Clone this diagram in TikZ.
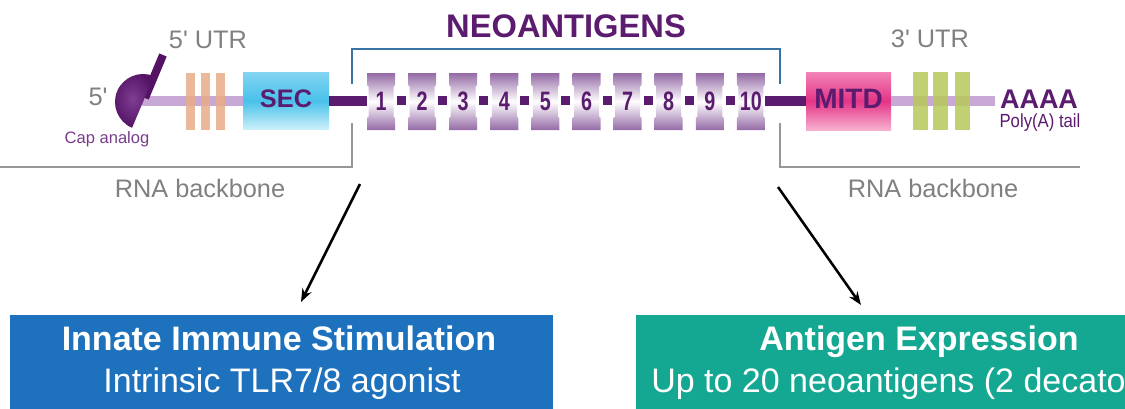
\documentclass[tikz,border=0pt]{standalone}
\usepackage{fontspec}
\setmainfont{Liberation Sans}
\usetikzlibrary{arrows.meta}

\definecolor{dpurple}{RGB}{91,27,110}
\definecolor{lpurple}{RGB}{200,168,212}
\definecolor{capdark}{RGB}{84,18,100}
\definecolor{caplight}{RGB}{128,62,148}
\definecolor{captxt}{RGB}{120,60,140}
\definecolor{gtext}{RGB}{128,128,128}
\definecolor{gline}{RGB}{150,150,150}
\definecolor{bline}{RGB}{58,116,166}
\definecolor{secTop}{RGB}{130,212,241}
\definecolor{secMid}{RGB}{72,193,234}
\definecolor{secBot}{RGB}{205,240,250}
\definecolor{mitdTop}{RGB}{242,132,182}
\definecolor{mitdMid}{RGB}{228,52,135}
\definecolor{mitdBot}{RGB}{247,176,207}
\definecolor{neoEdge}{RGB}{148,106,166}
\definecolor{utrOrange}{RGB}{233,172,136}
\definecolor{utrGreen}{RGB}{182,200,90}
\definecolor{innateBlue}{RGB}{30,114,189}
\definecolor{antigenTeal}{RGB}{20,168,146}

\newcommand{\pxfont}[1]{\fontsize{#1}{#1}\selectfont}

\begin{document}
\begin{tikzpicture}[x=0.75pt,y=-0.75pt,
  lbl/.style={inner sep=0pt, anchor=base},
  greylbl/.style={lbl, text=gtext, font=\pxfont{19pt}},
  purplbl/.style={lbl, text=dpurple},
  bracket/.style={line width=1.5pt},
  utrbar/.style={fill opacity=0.85},
  lightline/.style={lpurple, line width=7.5pt},
  darkline/.style={dpurple, line width=8pt},
  gene/.style={rectangle, inner sep=0pt, draw=none},
  callout/.style={black, line width=1.9pt, -{Stealth[length=10pt,width=7.5pt]}},
  panel/.style={rectangle, inner sep=0pt, draw=none, anchor=north west},
  paneltitle/.style={lbl, text=white, font=\bfseries\pxfont{25.5pt}},
  paneltext/.style={lbl, text=white, font=\pxfont{25.5pt}},
]
\useasboundingbox (0,0) rectangle (1125,408);
\clip (0,0) rectangle (1125,408);

% ---- title and bracket over the neoantigen cassette
\node[purplbl, font=\bfseries\pxfont{24.5pt}] (neo) at (566,37) {NEOANTIGENS};
\draw[bline, bracket] (352,84) -- (352,49) -- (780,49) -- (780,84);

% ---- RNA backbone brackets
\draw[gline, bracket] (0,167) -- (352,167) -- (352,123);
\draw[gline, bracket] (780,123) -- (780,167) -- (1080,167);
\node[greylbl] (rnaL) at (200,197) {RNA backbone};
\node[greylbl] (rnaR) at (933,197) {RNA backbone};

% ---- UTR labels
\node[greylbl] (utr5) at (208,48) {5\textquotesingle{} UTR};
\node[greylbl] (utr3) at (930,47) {3\textquotesingle{} UTR};

% ---- gene blocks
\node[gene, minimum width=64.5pt, minimum height=42.75pt,
      top color=secTop, bottom color=secBot, middle color=secMid] (sec) at (286,101) {};
\node[gene, minimum width=63.75pt, minimum height=43.5pt,
      top color=mitdTop, bottom color=mitdBot, middle color=mitdMid] (mitd) at (848.5,101) {};

\coordinate (capc) at (142,101);
\coordinate (tailw) at (995,101);
\coordinate (b1w) at (367,101);
\coordinate (b10e) at (765,101);

% ---- backbone strands
\draw[lightline] (capc) -- (sec.west);
\draw[lightline] (mitd.east) -- (tailw);
\draw[darkline] (sec.east) -- (b1w);
\draw[darkline] (b10e) -- (mitd.west);

% ---- UTR elements
\foreach \xa in {186,201,216}
  \fill[utrOrange, utrbar] (\xa,73) rectangle (\xa+9,130);
\foreach \xa in {913,933,955}
  \fill[utrGreen, utrbar] (\xa,72) rectangle (\xa+15,130);

% ---- 5' cap: half disc with its stalk along the flat edge
\draw[capdark, line width=6pt] (163,55) -- (145,98);
\shade[inner color=caplight, outer color=capdark]
  (143,102) ++(113:28) arc[start angle=113, end angle=293, radius=28] -- cycle;
\node[greylbl] (five) at (98,105) {5\textquotesingle};
\node[lbl, text=captxt, font=\pxfont{12.4pt}] (capl) at (107,143) {Cap analog};

% ---- block labels
\node[purplbl, font=\bfseries\pxfont{19pt}] (secl) at (286,107) {SEC};
\node[purplbl, font=\bfseries\pxfont{21pt}] (mitdl) at (848.5,108) {MITD};
\node[purplbl, font=\bfseries\pxfont{20.25pt}] (polyA) at (1039,108) {AAAA};
\node[purplbl, font=\pxfont{14.25pt}] (polyl) at (1040,127) {\scalebox{0.88}[1]{Poly(A) tail}};

% ---- ten neoantigen boxes with linkers
\foreach \i in {1,...,10}{
  \pgfmathsetmacro{\xa}{367+41.1*(\i-1)}
  \pgfmathsetmacro{\xb}{\xa+28}
  \shade[top color=neoEdge, bottom color=neoEdge, middle color=white]
    (\xa,73) -- (\xb,73) -- (\xb,85) -- (\xb-1.5,86.5) -- (\xb-1.5,116.5) -- (\xb,118)
    -- (\xb,130) -- (\xa,130) -- (\xa,118) -- (\xa+1.5,116.5) -- (\xa+1.5,86.5) -- (\xa,85) -- cycle;
  \node[purplbl, font=\bfseries\pxfont{20pt}] (n\i) at (\xa+14,110) {\scalebox{0.74}[1]{\i}};
}
\foreach \i in {1,...,9}{
  \pgfmathsetmacro{\xc}{367+41.1*(\i-1)+34.55}
  \fill[dpurple] (\xc-4.5,96) rectangle (\xc+4.5,105);
}

% ---- callouts
\coordinate (aLs) at (360,184);
\coordinate (aLe) at (301,302);
\coordinate (aRs) at (778,187);
\coordinate (aRe) at (861,305);
\draw[callout] (aLs) -- (aLe);
\draw[callout] (aRs) -- (aRe);

% ---- result panels
\node[panel, fill=innateBlue, minimum width=407.25pt, minimum height=78.75pt] (innate) at (10,315) {};
\node[panel, fill=antigenTeal, minimum width=374.25pt, minimum height=78.75pt] (antigen) at (636,315) {};
\node[paneltitle] (innateT) at (279,350) {Innate Immune Stimulation};
\node[paneltext] (innateS) at (282,392) {Intrinsic TLR7/8 agonist};
\node[paneltitle] (antigenT) at (919,350) {Antigen Expression};
\node[paneltext, anchor=base west] (antigenS) at (651,392) {Up to 20 neoantigens (2 decato};
\end{tikzpicture}
\end{document}
